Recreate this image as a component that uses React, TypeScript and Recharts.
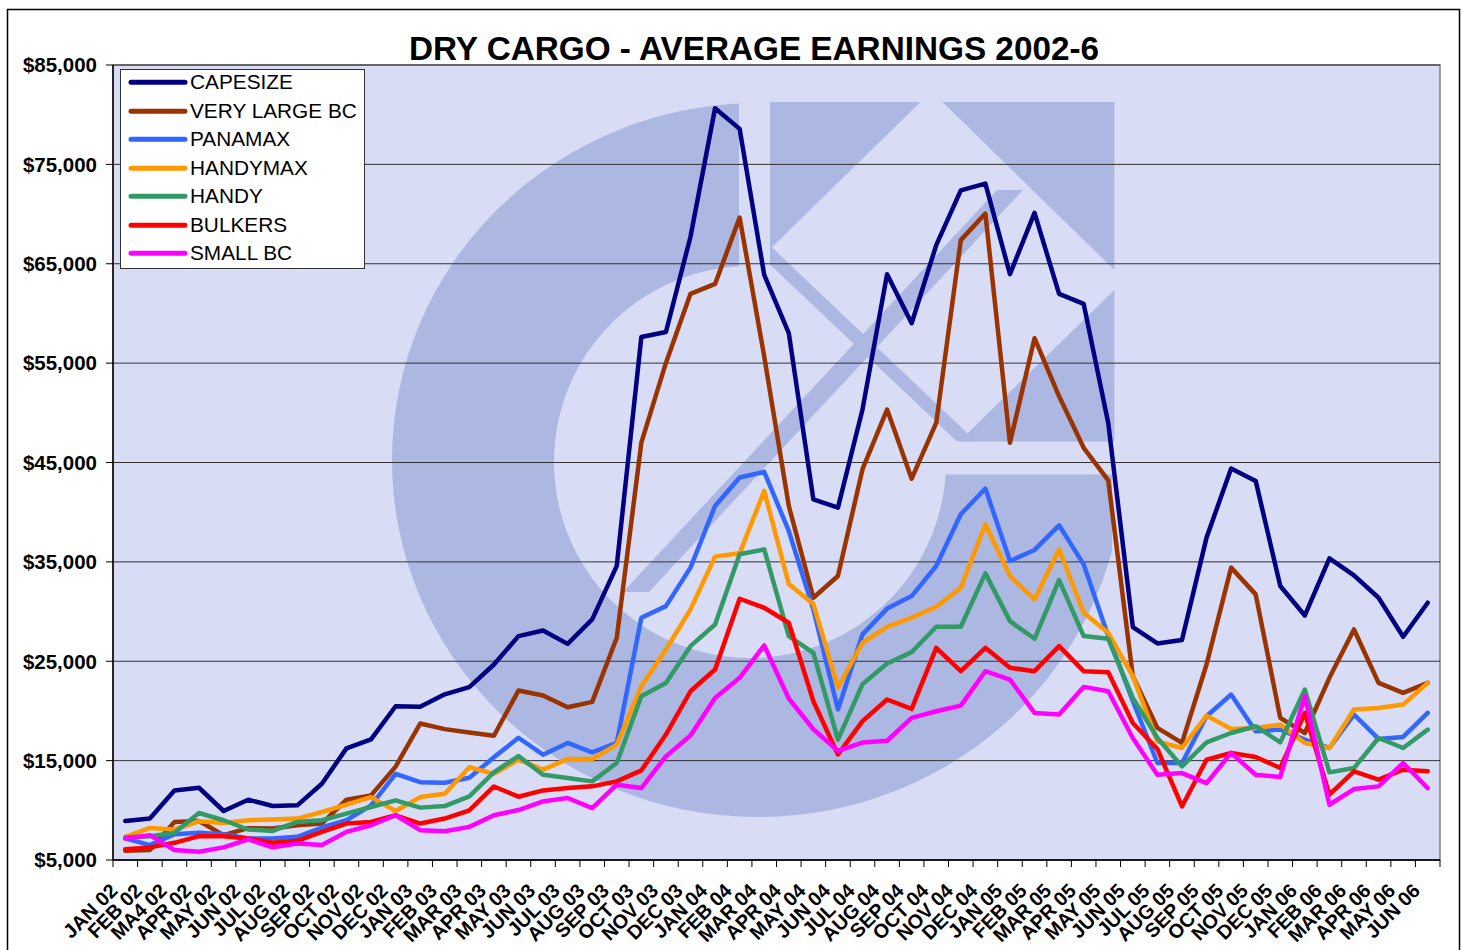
import React from 'react';
import { LineChart, Line, XAxis, YAxis, CartesianGrid, Legend } from 'recharts';

const months = [
  'JAN 02', 'FEB 02', 'MA4 02', 'APR 02', 'MAY 02', 'JUN 02', 'JUL 02', 'AUG 02', 'SEP 02', 'OCT 02', 'NOV 02', 'DEC 02',
  'JAN 03', 'FEB 03', 'MAR 03', 'APR 03', 'MAY 03', 'JUN 03', 'JUL 03', 'AUG 03', 'SEP 03', 'OCT 03', 'NOV 03', 'DEC 03',
  'JAN 04', 'FEB 04', 'MAR 04', 'APR 04', 'MAY 04', 'JUN 04', 'JUL 04', 'AUG 04', 'SEP 04', 'OCT 04', 'NOV 04', 'DEC 04',
  'JAN 05', 'FEB 05', 'MAR 05', 'APR 05', 'MAY 05', 'JUN 05', 'JUL 05', 'AUG 05', 'SEP 05', 'OCT 05', 'NOV 05', 'DEC 05',
  'JAN 06', 'FEB 06', 'MAR 06', 'APR 06', 'MAY 06', 'JUN 06',
];

const capesize = [
  8930, 9170, 12000, 12270, 9930, 11070, 10430, 10500, 12670, 16230, 17130, 20470,
  20430, 21670, 22400, 24670, 27530, 28100, 26750, 29210, 34600, 57630, 58130, 67720,
  80650, 78570, 63870, 58030, 41300, 40460, 50340, 63950, 59010, 66870, 72390, 73060,
  63960, 70120, 61960, 60960, 48980, 28440, 26790, 27130, 37440, 44400, 43150, 32570,
  29610, 35360, 33640, 31390, 27460, 30890,
];
const veryLargeBC = [
  5930, 6000, 8830, 8930, 7500, 8200, 8170, 8500, 8670, 11070, 11500, 14400,
  18730, 18170, 17830, 17500, 22050, 21550, 20370, 20910, 27360, 47000, 55020, 61970,
  62970, 69650, 55690, 40630, 31390, 33580, 44330, 50330, 43370, 48980, 67380, 70050,
  46980, 57510, 51660, 46480, 43200, 23500, 18290, 16780, 24670, 34420, 31730, 19300,
  17780, 23330, 28200, 22820, 21820, 22820,
];
const panamax = [
  7170, 6500, 7600, 7730, 7600, 7170, 7170, 7330, 8270, 9000, 10500, 13670,
  12830, 12770, 13270, 15330, 17300, 15600, 16780, 15840, 16780, 29380, 30550, 34420,
  40630, 43490, 44060, 38110, 30220, 20140, 27700, 30300, 31560, 34580, 39790, 42380,
  35090, 36200, 38680, 34750, 27530, 21000, 14760, 14760, 19460, 21650, 17950, 18120,
  17110, 16270, 19630, 17180, 17380, 19800,
];
const handymax = [
  7330, 8230, 8070, 8900, 8730, 9000, 9070, 9170, 9830, 10570, 11330, 9930,
  11330, 11670, 14330, 13670, 15100, 14090, 15160, 15160, 16610, 22490, 26180, 30220,
  35530, 35860, 42140, 32780, 30760, 22360, 26860, 28450, 29380, 30480, 32400, 38780,
  33580, 31220, 36260, 29880, 27860, 23500, 16940, 16270, 19530, 18190, 18290, 18620,
  16780, 16270, 20140, 20300, 20640, 22820,
];
const handy = [
  7270, 7400, 7730, 9730, 9000, 8070, 7930, 8830, 9000, 9670, 10330, 11000,
  10270, 10430, 11400, 13830, 15450, 13580, 13250, 12910, 14760, 21480, 22820, 26520,
  28700, 35760, 36260, 27530, 25850, 17110, 22700, 24780, 25920, 28470, 28470, 33840,
  29040, 27260, 33170, 27530, 27260, 21310, 17280, 14420, 16840, 17780, 18460, 16840,
  22150, 13820, 14260, 17280, 16270, 18120,
];
const bulkers = [
  6070, 6270, 6730, 7400, 7400, 7170, 6730, 6930, 7830, 8670, 8830, 9500,
  8670, 9170, 10000, 12400, 11370, 12000, 12240, 12410, 12910, 14020, 17620, 21980,
  24170, 31290, 30380, 28870, 20980, 15620, 18980, 21150, 20200, 26350, 24000, 26350,
  24340, 24000, 26520, 24000, 23900, 18790, 16170, 10390, 15100, 15770, 15370, 14260,
  19800, 11570, 13920, 13080, 14090, 13920,
];
const smallBC = [
  7170, 7500, 6000, 5830, 6270, 7070, 6270, 6670, 6500, 7830, 8500, 9500,
  8000, 7900, 8330, 9500, 10030, 10900, 11240, 10220, 12580, 12240, 15430, 17520,
  21310, 23330, 26590, 21250, 18160, 15980, 16820, 17000, 19300, 19970, 20540, 24000,
  23160, 19800, 19630, 22420, 21980, 17280, 13580, 13750, 12740, 15770, 13580, 13350,
  21480, 10560, 12140, 12410, 14760, 12240,
];

const yTicks = [5000, 15000, 25000, 35000, 45000, 55000, 65000, 75000, 85000];
const seriesNames = ['CAPESIZE', 'VERY LARGE BC', 'PANAMAX', 'HANDYMAX', 'HANDY', 'BULKERS', 'SMALL BC'];
const seriesKeys = ['capesize', 'veryLargeBC', 'panamax', 'handymax', 'handy', 'bulkers', 'smallBC'];
const seriesColors = ['#000080', '#993300', '#3366FF', '#FF9900', '#339966', '#FF0000', '#FF00FF'];
const seriesValues = [capesize, veryLargeBC, panamax, handymax, handy, bulkers, smallBC];

const data = months.map((m, i) => {
  const row: Record<string, string | number> = { month: m };
  seriesKeys.forEach((k, s) => {
    row[k] = seriesValues[s][i];
  });
  return row;
});

const W = 1463;
const H = 950;
const PL = 113;
const PR = 1440;
const PT = 65;
const PB = 860;
const STEP = (PR - PL) / months.length;
const FONT = '"Liberation Sans", Arial, Helvetica, sans-serif';
const BG = '#D8DCF5';
const LOGO = '#ACB8E2';

function XTick(props: any) {
  const { x, y, payload, index } = props;
  const last = index === months.length - 1;
  return (
    <g>
      <line x1={x - STEP / 2} x2={x - STEP / 2} y1={y} y2={y + 7} stroke="#000" strokeWidth={1} />
      {last && <line x1={x + STEP / 2} x2={x + STEP / 2} y1={y} y2={y + 7} stroke="#000" strokeWidth={1} />}
      <text
        x={0}
        y={0}
        transform={`translate(${x - 6.5},${y + 32}) rotate(-45)`}
        textAnchor="end"
        fontFamily={FONT}
        fontWeight="bold"
        fontSize={19.8}
        fill="#000"
      >
        {payload.value}
      </text>
    </g>
  );
}

function LegendBox() {
  return (
    <div
      style={{
        position: 'relative',
        width: 245,
        height: 200,
        boxSizing: 'border-box',
        border: '1px solid #333',
        background: '#fff',
        fontFamily: FONT,
      }}
    >
      {seriesNames.map((n, k) => (
        <div
          key={n}
          style={{
            position: 'absolute',
            left: 0,
            top: -1.8 + k * 28.5,
            height: 28.5,
            display: 'flex',
            alignItems: 'center',
            whiteSpace: 'nowrap',
          }}
        >
          <svg width={69} height={28.5} style={{ display: 'block' }}>
            <line x1={10} x2={64} y1={14.25} y2={14.25} stroke={seriesColors[k]} strokeWidth={5} strokeLinecap="round" />
          </svg>
          <span style={{ fontSize: 20.8, color: '#000', lineHeight: '28.5px' }}>{n}</span>
        </div>
      ))}
    </div>
  );
}

function Backdrop() {
  const cx = 758;
  const cy = 460;
  const rx = 366;
  const ry = 357;
  const icx = 750;
  const icy = 462;
  const ir = 196;
  const ring = `M ${cx - rx},${cy} a ${rx},${ry} 0 1,0 ${2 * rx},0 a ${rx},${ry} 0 1,0 ${-2 * rx},0 Z M ${icx - ir},${icy} a ${ir},${ir} 0 1,0 ${2 * ir},0 a ${ir},${ir} 0 1,0 ${-2 * ir},0 Z`;
  return (
    <svg width={W} height={H} style={{ position: 'absolute', left: 0, top: 0 }}>
      <defs>
        <clipPath id="plotClip">
          <rect x={PL} y={PT} width={PR - PL} height={PB - PT} />
        </clipPath>
        <clipPath id="ringClip">
          <polygon points="0,0 739,0 739,474.6 1112,474.6 1112,950 0,950" />
        </clipPath>
      </defs>
      <rect x={7.5} y={9.5} width={1452} height={960} fill="#fff" stroke="#000" strokeWidth={1.5} />
      <rect x={PL} y={PT} width={PR - PL} height={PB - PT} fill={BG} />
      <g clipPath="url(#plotClip)">
        <path d={ring} fill={LOGO} fillRule="evenodd" clipPath="url(#ringClip)" />
        <polygon points="770,102 920.5,102 770,249" fill={LOGO} />
        <polygon points="942.4,102 1114.4,102 1114.4,270" fill={LOGO} />
        <polygon points="1114.4,290 1114.4,441.5 959,441.5" fill={LOGO} />
        <polygon points="770,245.6 976,441.5 957,441.5 770,264.5" fill={LOGO} />
        <polygon points="623,592 649,592 1023,190 997,190" fill={LOGO} />
      </g>
      <rect x={PL} y={PT} width={PR - PL} height={PB - PT} fill="none" stroke="#808080" strokeWidth={1.5} />
      <text x={754} y={60} textAnchor="middle" fontFamily={FONT} fontWeight="bold" fontSize={33.3} fill="#000">
        DRY CARGO - AVERAGE EARNINGS 2002-6
      </text>
    </svg>
  );
}

export default function App() {
  return (
    <div style={{ position: 'absolute', left: 0, top: 0, width: W, height: H, overflow: 'hidden', background: '#fff' }}>
      <Backdrop />
      <div style={{ position: 'absolute', left: 0, top: 0 }}>
        <LineChart width={W} height={H} data={data} margin={{ top: PT, right: W - PR, bottom: 0, left: 0 }}>
          <CartesianGrid vertical={false} stroke="#333" strokeWidth={1} />
          <XAxis
            dataKey="month"
            height={H - PB}
            interval={0}
            padding={{ left: STEP / 2, right: STEP / 2 }}
            tickLine={false}
            tickSize={0}
            tickMargin={0}
            axisLine={{ stroke: '#000', strokeWidth: 1.5 }}
            tick={<XTick />}
          />
          <YAxis
            width={PL}
            domain={[5000, 85000]}
            ticks={yTicks}
            interval={0}
            tickSize={7}
            tickMargin={9}
            tickLine={{ stroke: '#000' }}
            axisLine={{ stroke: '#000', strokeWidth: 1.5 }}
            tickFormatter={(v: number) => `$${v.toLocaleString('en-US')}`}
            tick={{ fontFamily: FONT, fontWeight: 'bold', fontSize: 20.5, fill: '#000' }}
          />
          <Legend
            layout="vertical"
            align="center"
            verticalAlign="middle"
            wrapperStyle={{ left: 120, top: 69, width: 245, height: 200 }}
            content={() => <LegendBox />}
          />
          {seriesKeys.map((k, s) => (
            <Line
              key={k}
              type="linear"
              dataKey={k}
              name={seriesNames[s]}
              stroke={seriesColors[s]}
              strokeWidth={4.5}
              strokeLinejoin="round"
              strokeLinecap="round"
              dot={false}
              activeDot={false}
              isAnimationActive={false}
            />
          ))}
        </LineChart>
      </div>
    </div>
  );
}
